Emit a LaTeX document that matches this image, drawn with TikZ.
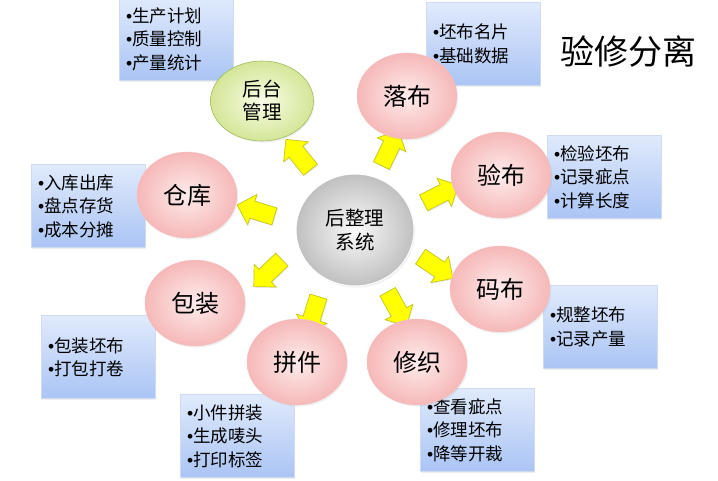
\documentclass[tikz,border=0pt]{standalone}
\usepackage{fontspec}
\setmainfont{Noto Sans CJK SC}
\newfontfamily\bulletfont{Liberation Sans}
\usetikzlibrary{shapes.geometric,shapes.arrows,shadows}
\definecolor{pinkin}{RGB}{254,236,236}
\definecolor{pinkout}{RGB}{246,184,184}
\definecolor{pinkrim}{RGB}{246,196,196}
\definecolor{greenin}{RGB}{248,252,230}
\definecolor{greenout}{RGB}{212,230,152}
\definecolor{greenrim}{RGB}{160,190,95}
\definecolor{greyin}{RGB}{250,250,250}
\definecolor{greyout}{RGB}{192,192,192}
\definecolor{boxtop}{RGB}{224,234,252}
\definecolor{boxbot}{RGB}{170,196,244}
\definecolor{boxrim}{RGB}{208,218,240}
\definecolor{arrowfill}{RGB}{255,255,0}
\definecolor{arrowrim}{RGB}{196,196,30}
\newcommand\mybul{{\bulletfont •}}
\begin{document}
\begin{tikzpicture}[x=1pt,y=-1pt,
  softshadow/.style={drop shadow={opacity=.12,shadow xshift=1.2pt,shadow yshift=-1.6pt}},
  sat/.style={ellipse,minimum width=100pt,minimum height=86pt,inner sep=0pt,
    shading=radial,inner color=pinkin,outer color=pinkout,draw=pinkrim,line width=.3pt,
    softshadow,font=\fontsize{24}{28}\selectfont,align=center},
  mgmt/.style={sat,minimum width=103pt,minimum height=80pt,inner color=greenin,
    outer color=greenout,draw=greenrim,line width=.6pt,font=\fontsize{19.5}{23}\selectfont},
  hub/.style={sat,minimum width=118pt,minimum height=112pt,inner color=greyin,
    outer color=greyout,draw=white,line width=1pt,font=\fontsize{19.5}{23.5}\selectfont},
  infobox/.style={rectangle,minimum width=114pt,minimum height=83pt,text width=100pt,
    inner xsep=7pt,align=left,top color=boxtop,bottom color=boxbot,draw=boxrim,
    line width=.3pt,softshadow,font=\fontsize{17.5}{23.5}\selectfont},
  yarrow/.style={single arrow,minimum height=39pt,inner xsep=0pt,inner ysep=8.5pt,
    single arrow head extend=7pt,fill=arrowfill,draw=arrowrim,line width=.7pt,
    drop shadow={opacity=.12,shadow xshift=1pt,shadow yshift=-1.2pt}}]
\fill[white] (0,0) rectangle (718,480);
\useasboundingbox (0,0) rectangle (718,480);
% info boxes
\node[infobox] (bmgmt) at (176,39) {\mybul 生产计划\\\mybul 质量控制\\\mybul 产量统计};
\node[infobox] (bluo) at (483,44) {\mybul 坯布名片\\\mybul 基础数据};
\node[infobox] (byan) at (604,177) {\mybul 检验坯布\\\mybul 记录疵点\\\mybul 计算长度};
\node[infobox] (bma) at (600,327) {\mybul 规整坯布\\\mybul 记录产量};
\node[infobox] (bxiu) at (477,430) {\mybul 查看疵点\\\mybul 修理坯布\\\mybul 降等开裁};
\node[infobox] (bpin) at (237,436) {\mybul 小件拼装\\\mybul 生成唛头\\\mybul 打印标签};
\node[infobox] (bbao) at (98,357) {\mybul 包装坯布\\\mybul 打包打卷};
\node[infobox] (bcang) at (88,206) {\mybul 入库出库\\\mybul 盘点存货\\\mybul 成本分摊};
% arrows
\node[yarrow,rotate=129] (amgmt) at (301,158) {};
\node[yarrow,rotate=64] (aluo) at (388,152) {};
\node[yarrow,rotate=27] (ayan) at (437,196) {};
\node[yarrow,rotate=-34] (ama) at (433,265) {};
\node[yarrow,rotate=-61] (axiu) at (395,305) {};
\node[yarrow,rotate=-107] (apin) at (314,311) {};
\node[yarrow,rotate=-136] (abao) at (271,270) {};
\node[yarrow,rotate=163] (acang) at (260,212) {};
% ellipses
\node[mgmt] (mgmt) at (262,101) {后台\\管理};
\node[sat] (luo) at (407,96) {落布};
\node[sat] (yan) at (501,175) {验布};
\node[sat] (ma) at (500,289) {码布};
\node[sat] (xiu) at (417,362) {修织};
\node[sat] (pin) at (297,362) {拼件};
\node[sat] (bao) at (195,303) {包装};
\node[sat] (cang) at (187,195) {仓库};
\node[hub] (hub) at (355,230) {后整理\\系统};
% title
\node (title) at (628,52) {\fontsize{34}{34}\selectfont 验修分离};
\end{tikzpicture}
\end{document}
